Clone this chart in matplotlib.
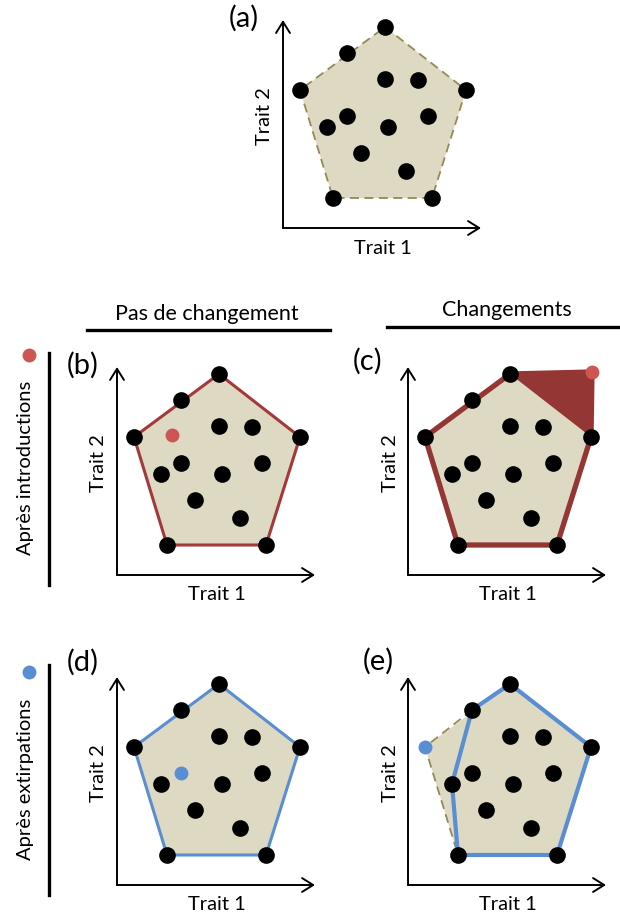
import matplotlib
matplotlib.use("Agg")
import matplotlib.pyplot as plt

plt.rcParams["font.family"] = ["Lato", "DejaVu Sans"]

# Trait space: 14 species (trait 1, trait 2)
trait1 = [102, 64, 102, 135, 17, 183, 64, 145, 44, 105, 78, 123, 50, 149]
trait2 = [201, 175, 149, 148, 138, 138, 112, 112, 101, 101, 75, 57, 30, 30]
hull_idx = [0, 5, 13, 12, 4]  # top, right, bottom-right, bottom-left, left

# (b) introduction inside the hull, (c) introduction outside the hull
intro_b = (55, 140)
intro_c = (184, 203)
# (d) extirpation inside the hull, (e) extirpation of a hull vertex
extirp_d = 6
extirp_e = 4
hull_e = [0, 5, 13, 12, 8, 1]

panel_labels = ["(a)", "(b)", "(c)", "(d)", "(e)"]
col_titles = ["Pas de changement", "Changements"]
row_titles = ["Après introductions", "Après extirpations"]

BEIGE = "#DDD9C3"
OLIVE = "#948A54"
RED_LINE = "#A3393A"
RED_DARK = "#943634"
RED_PT = "#CD5654"
BLUE_LINE = "#5A8ED2"
BLUE_PT = "#5A8ED2"

W, H = 620, 917
XLEN, YLEN = 198, 208
origins = {"a": (283, 228), "b": (117, 575), "c": (408, 575),
           "d": (117, 885), "e": (408, 885)}
label_pos = {"a": (244, 18), "b": (83, 365), "c": (368, 361),
             "d": (83, 662), "e": (378, 661)}

fig = plt.figure(figsize=(6.2, 9.17), dpi=100)
over = fig.add_axes([0, 0, 1, 1])
over.set_xlim(0, W)
over.set_ylim(H, 0)
over.axis("off")


def make_panel(key):
    ox, oy = origins[key]
    ax = fig.add_axes([ox / W, (H - oy) / H, XLEN / W, YLEN / H])
    ax.set_xlim(0, XLEN)
    ax.set_ylim(0, YLEN)
    ax.axis("off")
    arrow = dict(arrowstyle="->,head_length=0.8,head_width=0.5", lw=1.4,
                 color="black", mutation_scale=10, shrinkA=0, shrinkB=0)
    ax.annotate("", xy=(XLEN, 0), xytext=(0, 0), arrowprops=arrow,
                annotation_clip=False)
    ax.annotate("", xy=(0, YLEN), xytext=(0, 0), arrowprops=arrow,
                annotation_clip=False)
    ax.text(100, -20, "Trait 1", ha="center", va="center", fontsize=14.5,
            clip_on=False)
    ax.text(-18, 112, "Trait 2", ha="center", va="center", fontsize=14.5,
            rotation=90, clip_on=False)
    lx, ly = label_pos[key]
    over.text(lx, ly, panel_labels["abcde".index(key)], ha="center",
              va="center", fontsize=21)
    return ax


def hull_xy(idx):
    xs = [trait1[i] for i in idx]
    ys = [trait2[i] for i in idx]
    return xs + xs[:1], ys + ys[:1]


def dots(ax, skip=(), color="black"):
    xs = [x for i, x in enumerate(trait1) if i not in skip]
    ys = [y for i, y in enumerate(trait2) if i not in skip]
    ax.plot(xs, ys, "o", ms=12, color=color, mec="none", clip_on=False,
            zorder=5)


hx, hy = hull_xy(hull_idx)

# (a)
ax = make_panel("a")
ax.fill(hx, hy, color=BEIGE, lw=0)
ax.plot(hx, hy, color=OLIVE, lw=1.3, ls=(0, (5, 3)))
dots(ax)

# (b)
ax = make_panel("b")
ax.fill(hx, hy, color=BEIGE, lw=0)
ax.plot(hx, hy, color=RED_LINE, lw=2.2)
dots(ax)
ax.plot(*intro_b, "o", ms=10, color=RED_PT, mec="none", zorder=6)

# (c)
ax = make_panel("c")
ax.fill(hx, hy, color=BEIGE, lw=0)
tri_x = [trait1[0], intro_c[0], trait1[5]]
tri_y = [trait2[0], intro_c[1], trait2[5]]
ax.fill(tri_x, tri_y, color=RED_DARK, lw=0)
cx = [trait1[4], trait1[0], intro_c[0], trait1[5], trait1[13], trait1[12], trait1[4]]
cy = [trait2[4], trait2[0], intro_c[1], trait2[5], trait2[13], trait2[12], trait2[4]]
ax.plot(cx, cy, color=RED_DARK, lw=3.8, solid_joinstyle="miter")
dots(ax)
ax.plot(*intro_c, "o", ms=10, color=RED_PT, mec="none", zorder=6,
        clip_on=False)

# (d)
ax = make_panel("d")
ax.fill(hx, hy, color=BEIGE, lw=0)
ax.plot(hx, hy, color=BLUE_LINE, lw=2.2)
dots(ax, skip=(extirp_d,))
ax.plot(trait1[extirp_d], trait2[extirp_d], "o", ms=10, color=BLUE_PT,
        mec="none", zorder=6)

# (e)
ax = make_panel("e")
ax.fill(hx, hy, color=BEIGE, lw=0)
ax.plot([trait1[1], trait1[4], trait1[12]], [trait2[1], trait2[4], trait2[12]],
        color=OLIVE, lw=1.3, ls=(0, (5, 3)))
ex, ey = hull_xy(hull_e)
ax.plot(ex, ey, color=BLUE_LINE, lw=3)
dots(ax, skip=(extirp_e,))
ax.plot(trait1[extirp_e], trait2[extirp_e], "o", ms=10, color=BLUE_PT,
        mec="none", zorder=6, clip_on=False)

# column headers
over.text(207, 314, col_titles[0], ha="center", va="center", fontsize=15.5)
over.plot([87, 330], [330, 330], color="black", lw=2.4)
over.text(507, 310, col_titles[1], ha="center", va="center", fontsize=15.5)
over.plot([387, 620], [327, 327], color="black", lw=2.4)

# row headers
over.text(26, 468, row_titles[0], ha="center", va="center", fontsize=14.5,
          rotation=90)
over.plot([29], [355], "o", ms=10, color=RED_PT, mec="none")
over.plot([49, 49], [353, 585], color="black", lw=2.4)
over.text(26, 779, row_titles[1], ha="center", va="center", fontsize=14.5,
          rotation=90)
over.plot([29], [672], "o", ms=10, color=BLUE_PT, mec="none")
over.plot([49, 49], [665, 895], color="black", lw=2.4)

fig.savefig("out.png", dpi=100)
